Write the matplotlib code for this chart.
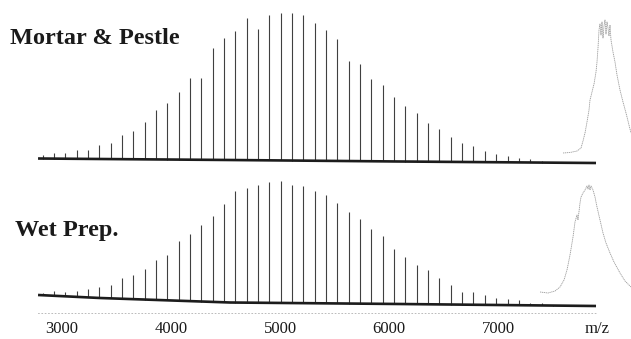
import numpy as np
import matplotlib
matplotlib.use("Agg")
import matplotlib.pyplot as plt

SERIF = ["Liberation Serif", "DejaVu Serif"]

# peak m/z values (polystyrene-like ladder, 104 apart)
peak_mz = [2823, 2927, 3031, 3135, 3239, 3343, 3447, 3551, 3655, 3759,
           3863, 3967, 4071, 4175, 4279, 4383, 4487, 4591, 4695, 4799,
           4903, 5007, 5111, 5215, 5319, 5423, 5527, 5631, 5735, 5839,
           5943, 6047, 6151, 6255, 6359, 6463, 6567, 6671, 6775, 6879,
           6983, 7087, 7191, 7295, 7399, 7503]

# peak heights above baseline (a.u.)
mortar_peaks = [3.5, 5.3, 5.4, 8.8, 8.9, 14, 16.4, 24.2, 28.3, 37.7,
                49.5, 56.8, 67.9, 81.4, 82.1, 111.6, 121.5, 129.1, 142.2, 131.3,
                145.4, 147.5, 147.5, 145.6, 137.7, 130.8, 121.9, 100, 97.1, 82.2,
                76.3, 64.4, 55.5, 48.6, 38.7, 32.7, 24.8, 18.9, 16, 11.1,
                8.2, 6.3, 4.4, 3.5, 1.6, 1.0]
wet_peaks = [2, 5.1, 4.6, 6.2, 8.4, 11.3, 13.4, 20.8, 24.2, 30.6,
             40, 45.4, 60.1, 67.1, 76.5, 86.2, 98.3, 111.5, 114.9, 117.7,
             120.5, 122.2, 118, 117.1, 112.3, 108.4, 100.2, 91.9, 84.3, 74.4,
             67.8, 54.9, 46.8, 39.2, 34.3, 26.1, 19.5, 12.9, 13.1, 9.9,
             7.3, 5.8, 5.2, 2.6, 2.0, 1.0]

# baselines (m/z, level)
baseline_mz = [2780, 3349, 4541, 6101, 7899]
mortar_base = [11.5, 11.0, 10.0, 8.5, 7.0]
wet_base = [18.0, 15.0, 10.5, 9.0, 7.0]

# zoomed single-peak insets (offset, level)
mortar_zoom_x = [23, 30, 37, 41, 43, 45, 47, 49, 50, 52, 54, 56, 57, 58, 59,
                 60, 61, 62, 63, 64, 65, 66, 67, 68, 69, 70, 71, 72, 73, 75,
                 77, 80, 83, 86, 89, 91]
mortar_zoom_y = [17, 17.5, 19, 22, 29, 37, 48, 60, 70, 78, 86, 98, 108, 122, 140,
                 146, 135, 148, 132, 144, 150, 136, 148, 142, 134, 145, 130, 124, 118, 108,
                 95, 80, 68, 57, 45, 37]
wet_zoom_x = [0, 8, 15, 20, 24, 27, 30, 33, 35, 37, 38, 40, 41, 43, 45, 47,
              48, 49, 50, 51, 53, 55, 57, 60, 63, 66, 70, 74, 80, 85, 91]
wet_zoom_y = [21, 20, 22, 26, 33, 43, 58, 76, 91, 98, 93, 110, 116, 120, 123, 127,
              124, 128, 123, 127, 123, 116, 106, 93, 80, 70, 60, 51, 40, 32, 26]

tick_vals = [3000, 4000, 5000, 6000, 7000]

W, H = 631, 339
fig = plt.figure(figsize=(W / 100, H / 100), dpi=100)
xlim = (2431, 8220)


def draw_trace(ax, peaks, base):
    level = np.interp(peak_mz, baseline_mz, base)
    ax.vlines(peak_mz, level, level + np.array(peaks), color="#404040", lw=0.8)
    ax.plot(baseline_mz, base, color="#1c1c1c", lw=1.9, solid_capstyle="butt")
    ax.set_xlim(*xlim)


ax_top = fig.add_axes([0, 1 - 170 / H, 1, 170 / H])
draw_trace(ax_top, mortar_peaks, mortar_base)
ax_top.set_ylim(0, 170)
ax_top.axis("off")

ax_bot = fig.add_axes([0, 1 - 313 / H, 1, 143 / H])
draw_trace(ax_bot, wet_peaks, wet_base)
ax_bot.set_ylim(0, 143)
for side in ["top", "left", "right"]:
    ax_bot.spines[side].set_visible(False)
ax_bot.spines["bottom"].set_linestyle((0, (1, 3)))
ax_bot.spines["bottom"].set_color("#b0b0b0")
ax_bot.spines["bottom"].set_linewidth(0.6)
ax_bot.spines["bottom"].set_bounds(baseline_mz[0], baseline_mz[-1])
ax_bot.set_yticks([])
ax_bot.set_xticks(tick_vals)
ax_bot.set_xticklabels([str(v) for v in tick_vals], family=SERIF, fontsize=12,
                       color="#1a1a1a")
ax_bot.tick_params(axis="x", length=0, pad=5.5)
ax_bot.patch.set_alpha(0)

ax_zt = fig.add_axes([540 / W, 1 - 170 / H, 91 / W, 170 / H])
ax_zt.plot(mortar_zoom_x, mortar_zoom_y, color="#9a9a9a", lw=0.6, ls=(0, (1.5, 0.8)))
ax_zt.set_xlim(0, 91)
ax_zt.set_ylim(0, 170)
ax_zt.axis("off")

ax_zb = fig.add_axes([540 / W, 1 - 313 / H, 91 / W, 143 / H])
ax_zb.plot(wet_zoom_x, wet_zoom_y, color="#9a9a9a", lw=0.6, ls=(0, (1.5, 0.8)))
ax_zb.set_xlim(0, 91)
ax_zb.set_ylim(0, 143)
ax_zb.axis("off")

fig.text(10 / W, 1 - 44 / H, "Mortar & Pestle", family=SERIF, fontsize=17.5,
         fontweight="bold", color="#1a1a1a", va="baseline", ha="left")
fig.text(15 / W, 1 - 236 / H, "Wet Prep.", family=SERIF, fontsize=17.5,
         fontweight="bold", color="#1a1a1a", va="baseline", ha="left")
fig.text(597 / W, 1 - 329 / H, "m/z", family=SERIF, fontsize=12,
         color="#1a1a1a", va="center", ha="center")

fig.savefig("out.png", dpi=100)
